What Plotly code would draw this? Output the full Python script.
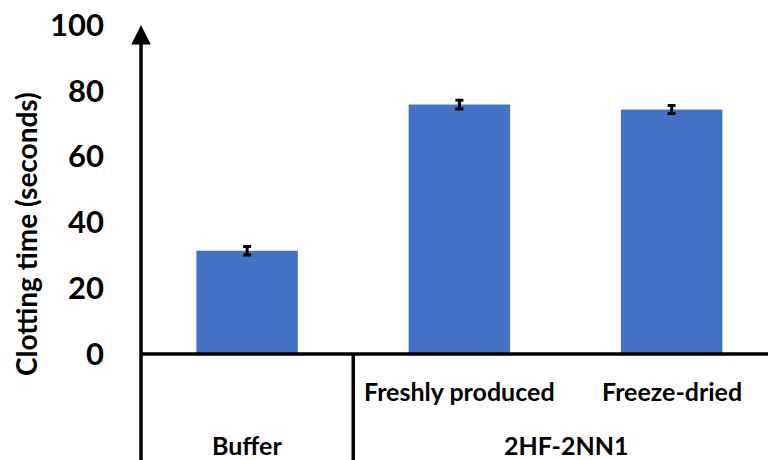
import plotly.graph_objects as go

categories = ["Buffer", "Freshly produced", "Freeze-dried"]
values = [31.4, 75.8, 74.3]
errors = [1.3, 1.3, 1.2]
group_labels = ["", "Freshly produced", "Freeze-dried"]
outer_labels = ["Buffer", "2HF-2NN1"]
y_ticks = [0, 20, 40, 60, 80, 100]
y_title = "Clotting time (seconds)"

FONT = "Lato"
BLUE = "#4472C4"

fig = go.Figure()
fig.add_trace(go.Bar(
    x=list(range(len(categories))), y=values,
    width=0.478,
    marker=dict(color=BLUE, line=dict(width=0)),
    error_y=dict(type="data", array=errors, visible=True,
                 color="black", thickness=3, width=4),
    hovertext=categories,
))

W, H = 768, 460
ml, mr, mt, mb = 141, 0, 25, 106
PH = H - mt - mb
PW = W - ml - mr

fig.update_layout(
    width=W, height=H,
    margin=dict(l=ml, r=mr, t=mt, b=mb, autoexpand=False),
    paper_bgcolor="white", plot_bgcolor="white",
    showlegend=False,
    font=dict(family=FONT, color="black"),
    xaxis=dict(range=[-0.5, 2.454], showticklabels=False, showgrid=False,
               zeroline=False, showline=False, ticks=""),
    yaxis=dict(range=[0, 100], tickvals=y_ticks, showgrid=False,
               zeroline=False, showline=False, ticks="", automargin=False,
               ticklabelstandoff=36,
               tickfont=dict(family=FONT, size=31, color="black", weight="bold")),
)

# x axis baseline
fig.add_shape(type="line", xref="paper", yref="paper", x0=0, x1=1, y0=0, y1=0,
              line=dict(color="black", width=3.5))
# y axis line extending below the axis
fig.add_shape(type="line", xref="paper", yref="paper", x0=0, x1=0,
              y0=-mb / PH, y1=0.97, line=dict(color="black", width=3.5))
# separator between Buffer and 2HF-2NN1
fig.add_shape(type="line", xref="paper", yref="paper",
              x0=(0.5 + 0.5) / (2.454 + 0.5), x1=(0.5 + 0.5) / (2.454 + 0.5),
              y0=-mb / PH, y1=0, line=dict(color="black", width=3.5))
# arrow head at top of y axis
fig.add_annotation(x=0, y=1.0, xref="paper", yref="paper", ax=0, ay=20,
                   showarrow=True, arrowhead=2, arrowsize=1.3, arrowwidth=3,
                   arrowcolor="black", text="")

# inner category labels
for i, lab in enumerate(group_labels):
    if lab:
        fig.add_annotation(x=i, y=0, xref="x", yref="y", yshift=-37,
                           xanchor="center", yanchor="middle",
                           text=lab, showarrow=False,
                           font=dict(family=FONT, size=25, color="black", weight="bold"))
# outer labels
outer_pos = [0, 1.5]
for pos, lab in zip(outer_pos, outer_labels):
    fig.add_annotation(x=pos, y=0, xref="x", yref="y", yshift=-91,
                       xanchor="center", yanchor="middle",
                       text=lab, showarrow=False,
                       font=dict(family=FONT, size=25, color="black", weight="bold"))

# y axis title
fig.add_annotation(x=(26 - ml) / PW, xref="paper", y=(H - mb - 234) / PH, yref="paper",
                   xanchor="center", yanchor="middle",
                   text=y_title, showarrow=False, textangle=-90,
                   font=dict(family=FONT, size=28, color="black", weight="bold"))

fig.write_html("out.html", config={"displayModeBar": False},
               post_script="document.body.style.margin='0';document.body.style.overflow='hidden';")
